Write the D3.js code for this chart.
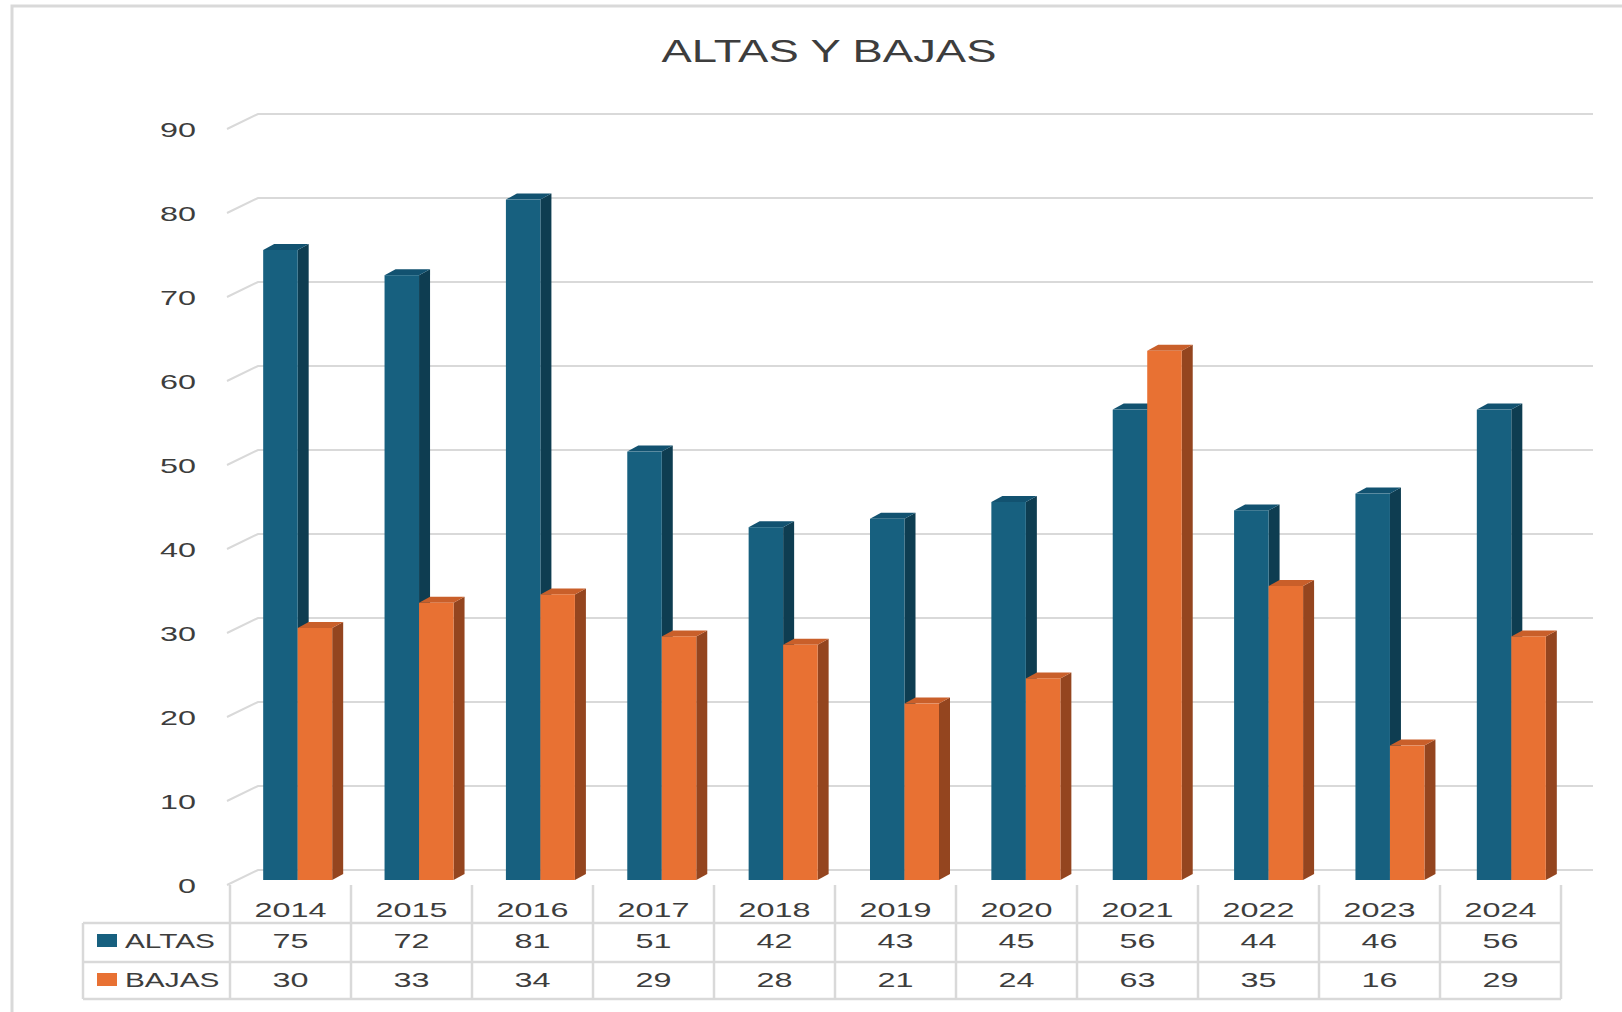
<!DOCTYPE html>
<html><head>
<meta charset="utf-8">
<script src="https://d3js.org/d3.v7.min.js"></script>
<style>
  body { margin: 0; background: #fff; }
  text { font-family: "Liberation Sans", Arial, sans-serif; fill: #3d3d3d; }
</style>
</head>
<body>
<script>
  // data
  var years = ["2014","2015","2016","2017","2018","2019","2020","2021","2022","2023","2024"];
  var altas = [75,72,81,51,42,43,45,56,44,46,56];
  var bajas = [30,33,34,29,28,21,24,63,35,16,29];
  var seriesNames = ["ALTAS","BAJAS"];
  var yTicks = [0,10,20,30,40,50,60,70,80,90];

  let width = 1622, height = 1012;
  let svg = d3.select("body").append("svg").attr("width", width).attr("height", height);

  // frame (cropped on the right and bottom)
  svg.append("rect").attr("x",12).attr("y",6).attr("width",1700).attr("height",1100)
     .attr("fill","#fff").attr("stroke","#d9d9d9").attr("stroke-width",3);

  let colors = { ALTAS: {front:"#17607f", side:"#0e3d51", top:"#125270"},
                 BAJAS: {front:"#e87133", side:"#94451f", top:"#c95f2a"} };

  let digitScale = 1.54, letterScale = 1.42;
  let depth = {dx: 11, dy: -6};

  let yFront = d3.scaleLinear().domain([0,90]).range([880,124]);
  let yBack = d3.scaleLinear().domain([0,90]).range([870,114]);
  let xBar = d3.scaleBand().domain(years).range([237,1572]);
  let xSeries = d3.scaleBand().domain(seriesNames).range([-34.5,34.5]);
  let xTable = d3.scaleBand().domain(years).range([230,1561]);

  // title
  svg.append("text").attr("transform","translate(829,62) scale("+letterScale+",1)")
     .attr("text-anchor","middle").attr("font-size",32).text("ALTAS Y BAJAS");

  // gridlines on the back wall + side diagonal
  let grid = svg.append("g").attr("stroke","#d9d9d9").attr("stroke-width",2).attr("fill","none");
  yTicks.forEach(function(t) {
    let yb = yBack(t);
    grid.append("path").attr("d","M227,"+(yb+15)+"L258,"+yb+"L1593,"+yb);
    svg.append("text").attr("transform","translate(196,"+(yb+23)+") scale("+digitScale+",1)")
       .attr("text-anchor","end").attr("font-size",21).text(t);
  });

  // 3D bars
  let chart = svg.append("g");
  years.forEach(function(yr, i) {
    let vals = { ALTAS: altas[i], BAJAS: bajas[i] };
    seriesNames.forEach(function(s) {
      let x0 = xBar(yr) + xBar.bandwidth()/2 + xSeries(s);
      let x1 = x0 + xSeries.bandwidth();
      let yt = yFront(vals[s]), yb = yFront(0);
      let c = colors[s];
      chart.append("path").attr("fill", c.side)
        .attr("d","M"+x1+","+yt+"L"+(x1+depth.dx)+","+(yt+depth.dy)+"L"+(x1+depth.dx)+","+(yb+depth.dy)+"L"+x1+","+yb+"Z");
      chart.append("path").attr("fill", c.top)
        .attr("d","M"+x0+","+yt+"L"+(x0+depth.dx)+","+(yt+depth.dy)+"L"+(x1+depth.dx)+","+(yt+depth.dy)+"L"+x1+","+yt+"Z");
      chart.append("rect").attr("x",x0).attr("y",yt).attr("width",x1-x0).attr("height",yb-yt)
        .attr("fill", c.front);
    });
  });

  // data table
  let table = svg.append("g").attr("stroke","#d9d9d9").attr("stroke-width",2.5).attr("fill","none");
  let rowLines = [923, 962, 999];
  rowLines.forEach(function(y) {
    table.append("line").attr("x1",83).attr("x2",1561).attr("y1",y).attr("y2",y);
  });
  table.append("line").attr("x1",83).attr("x2",83).attr("y1",923).attr("y2",999);
  years.forEach(function(yr) {
    table.append("line").attr("x1",xTable(yr)).attr("x2",xTable(yr)).attr("y1",885).attr("y2",999);
  });
  table.append("line").attr("x1",1561).attr("x2",1561).attr("y1",885).attr("y2",999);

  let rowBase = { header: 917, ALTAS: 948, BAJAS: 987 };
  years.forEach(function(yr, i) {
    let cx = xTable(yr) + xTable.bandwidth()/2;
    [["header", yr], ["ALTAS", altas[i]], ["BAJAS", bajas[i]]].forEach(function(r) {
      svg.append("text").attr("transform","translate("+cx+","+rowBase[r[0]]+") scale("+digitScale+",1)")
         .attr("text-anchor","middle").attr("font-size",21).text(r[1]);
    });
  });

  // legend keys in the table
  seriesNames.forEach(function(s) {
    let base = rowBase[s];
    svg.append("rect").attr("x",97).attr("y",base-14).attr("width",20).attr("height",13)
       .attr("fill", colors[s].front);
    svg.append("text").attr("transform","translate(125,"+base+") scale("+letterScale+",1)")
       .attr("font-size",21).text(s);
  });
</script>
</body>
</html>
